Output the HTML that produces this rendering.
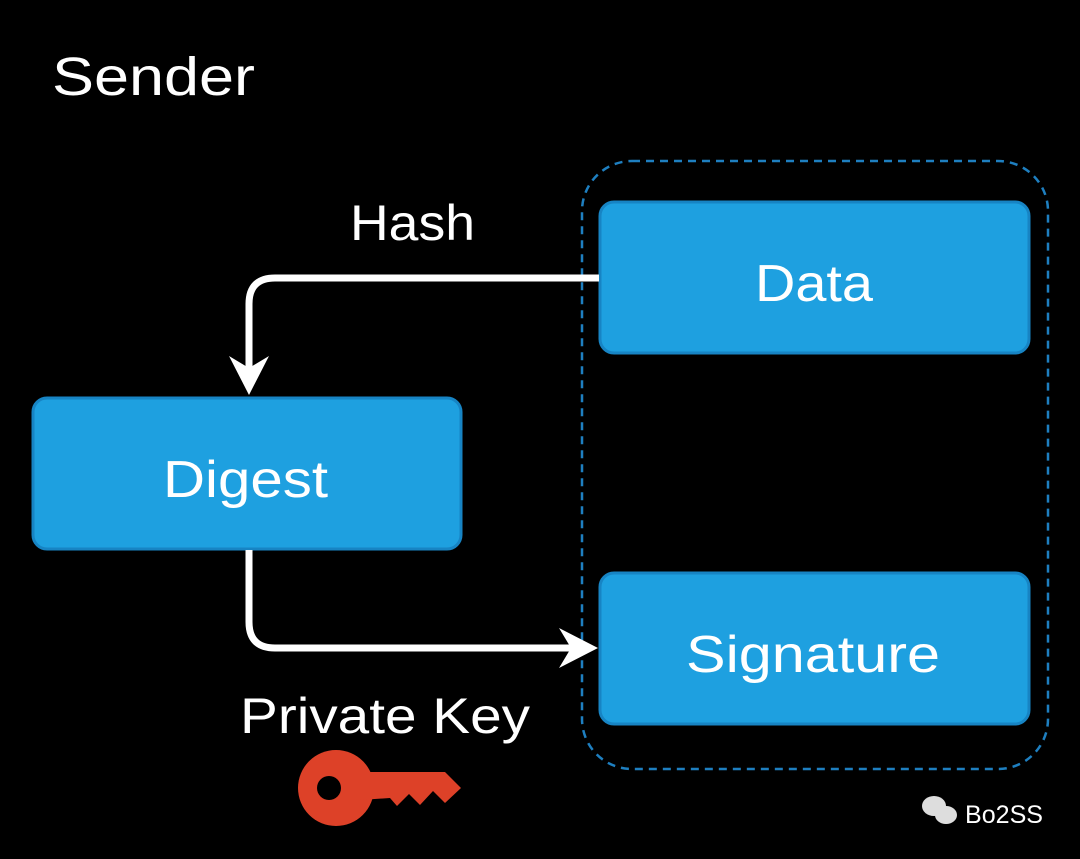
<!DOCTYPE html>
<html><head><style>
body{margin:0;background:#000;}
svg{display:block}
text{font-family:"Comic Sans MS","Liberation Sans",sans-serif;fill:#fff;}
</style></head><body>
<svg width="1080" height="859" viewBox="0 0 1080 859" xmlns="http://www.w3.org/2000/svg">
<rect width="1080" height="859" fill="#000"/>
<text x="52" y="95" font-size="54" textLength="203" lengthAdjust="spacingAndGlyphs">Sender</text>
<rect x="582" y="161" width="466" height="608" rx="50" fill="none" stroke="#1e7fc0" stroke-width="2.5" stroke-dasharray="8,6"/>
<rect x="600" y="202" width="429" height="151" rx="14" fill="#1ea0e0" stroke="#1784c4" stroke-width="3"/>
<rect x="33" y="398" width="428" height="151" rx="14" fill="#1ea0e0" stroke="#1784c4" stroke-width="3"/>
<rect x="600" y="573" width="429" height="151" rx="14" fill="#1ea0e0" stroke="#1784c4" stroke-width="3"/>
<text x="755" y="301" font-size="52" textLength="118" lengthAdjust="spacingAndGlyphs">Data</text>
<text x="163" y="497" font-size="52" textLength="165" lengthAdjust="spacingAndGlyphs">Digest</text>
<text x="686" y="672" font-size="52" textLength="254" lengthAdjust="spacingAndGlyphs">Signature</text>
<text x="350" y="240" font-size="50" textLength="125" lengthAdjust="spacingAndGlyphs">Hash</text>
<text x="240" y="733" font-size="50" textLength="290" lengthAdjust="spacingAndGlyphs">Private Key</text>
<path d="M599 278 H275 Q249 278 249 304 V370" fill="none" stroke="#fff" stroke-width="7"/>
<polygon points="229,356 249,395 269,356 249,368" fill="#fff"/>
<path d="M249 550 V622 Q249 648 275 648 H575" fill="none" stroke="#fff" stroke-width="7"/>
<polygon points="559,628 598,648 559,668 571,648" fill="#fff"/>
<g fill="#dd4128">
<circle cx="336" cy="788" r="38"/>
<path d="M360 772 H445 L461 788 L445 803 L433 791 L420 805 L409 794 L397 806 L390 798 L360 800 Z"/>
</g>
<circle cx="329" cy="788" r="12" fill="#000"/>
<g fill="#ddd">
<ellipse cx="934" cy="806" rx="12" ry="10"/>
<ellipse cx="946" cy="815" rx="11" ry="9"/>
</g>
<text x="965" y="823" font-size="25" textLength="78" lengthAdjust="spacingAndGlyphs" style="font-family:'Liberation Sans',sans-serif" fill="#eee">Bo2SS</text>
</svg>
</body></html>
